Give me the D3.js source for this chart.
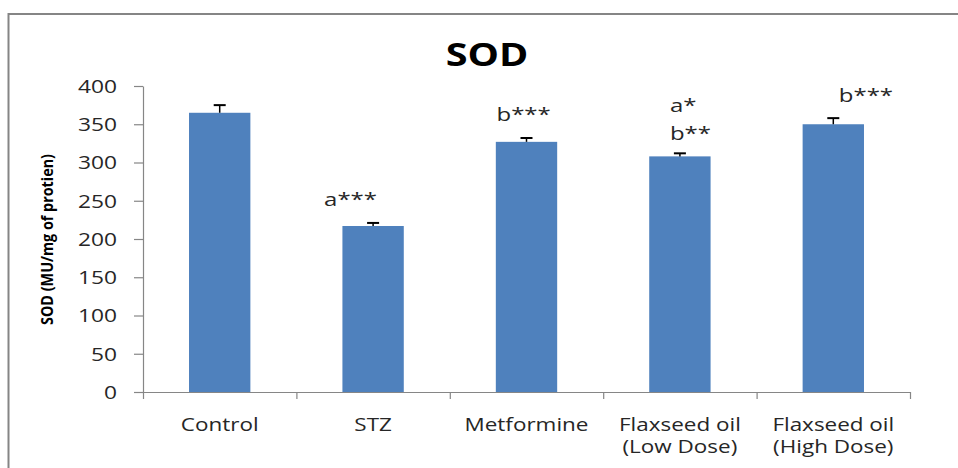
<!DOCTYPE html>
<html>
<head>
<meta charset="utf-8">
<script src="https://cdn.jsdelivr.net/npm/d3@7/dist/d3.min.js"></script>
<style>
  html, body { margin: 0; padding: 0; background: #fff; }
  svg { display: block; }
  text { font-family: "Open Sans", sans-serif; fill: #262626; }
</style>
</head>
<body>
<svg id="chart" width="958" height="468"></svg>
<script>
// ---- data ----
const categories = ["Control", "STZ", "Metformine", "Flaxseed oil\n(Low Dose)", "Flaxseed oil\n(High Dose)"];
const values = [365, 217, 327, 308, 350];
const errors = [10, 4, 5, 4, 8];
const yTicks = [0, 50, 100, 150, 200, 250, 300, 350, 400];
// significance annotations: category index, label, value-level of baseline
const annotCat = [1, 2, 3, 3, 4];
const annotText = ["a***", "b***", "a*", "b**", "b***"];
const annotLevel = [243.5, 354, 365.6, 329, 379.5];
const annotShift = [-49, -30, -10, -10, 5.5];

const title = "SOD";
const yLabel = "SOD (MU/mg of protien)";

// ---- layout ----
const SX = 1.3; // horizontal stretch of the source picture
const svg = d3.select("#chart");
const mLeft = 143, mRight = 910, mTop = 86, mBottom = 392;

const x = d3.scaleBand().domain(d3.range(categories.length)).range([mLeft, mRight]).paddingInner(0).paddingOuter(0);
const xEdges = d3.scaleLinear().domain([0, categories.length]).range([mLeft, mRight]);
const y = d3.scaleLinear().domain([0, 400]).range([mBottom, mTop]);

// outer border
svg.append("rect")
  .attr("x", 8.5).attr("y", 14)
  .attr("width", 1000).attr("height", 500)
  .attr("fill", "none").attr("stroke", "#858585").attr("stroke-width", 2);

// title
svg.append("text")
  .attr("transform", `translate(487,66) scale(1.2,1)`)
  .attr("text-anchor", "middle")
  .attr("font-size", 33).attr("font-weight", "bold")
  .style("fill", "#000")
  .text(title);

// y axis
const yAxis = svg.append("g")
  .attr("transform", `translate(${mLeft},0)`)
  .call(d3.axisLeft(y).tickValues(yTicks).tickSize(9).tickSizeOuter(0));
yAxis.select(".domain").attr("stroke", "#868686").attr("stroke-width", 1.2);
yAxis.selectAll(".tick line").attr("stroke", "#868686").attr("stroke-width", 1.2);
yAxis.selectAll(".tick text")
  .attr("x", null).attr("dy", "0.36em")
  .attr("transform", `translate(-26,0) scale(${SX},1)`)
  .attr("font-size", 17.5)
  .attr("font-family", "Open Sans")
  .style("fill", "#262626");

// bars
const barW = x.bandwidth() * 0.4;
svg.append("g").selectAll("rect")
  .data(values)
  .join("rect")
  .attr("x", (d, i) => x(i) + x.bandwidth() / 2 - barW / 2)
  .attr("y", d => y(d))
  .attr("width", barW)
  .attr("height", d => y(0) - y(d))
  .attr("fill", "#4F81BD");

// error bars (upper only)
const eb = svg.append("g").attr("stroke", "#000");
values.forEach((v, i) => {
  const cx = x(i) + x.bandwidth() / 2;
  eb.append("line").attr("x1", cx).attr("x2", cx).attr("y1", y(v)).attr("y2", y(v + errors[i])).attr("stroke-width", 1.5);
  eb.append("line").attr("x1", cx - 6).attr("x2", cx + 6).attr("y1", y(v + errors[i])).attr("y2", y(v + errors[i])).attr("stroke-width", 2);
});

// x axis
const xAxis = svg.append("g")
  .attr("transform", `translate(0,${mBottom})`)
  .call(d3.axisBottom(xEdges).tickValues(d3.range(categories.length + 1)).tickSize(7).tickSizeOuter(0).tickFormat(""));
xAxis.select(".domain").attr("stroke", "#868686").attr("stroke-width", 1.2);
xAxis.selectAll(".tick line").attr("stroke", "#868686").attr("stroke-width", 1.2);

// category labels
const lab = svg.append("g");
categories.forEach((c, i) => {
  const cx = x(i) + x.bandwidth() / 2;
  const lines = c.split("\n");
  const t = lab.append("text")
    .attr("transform", `translate(${cx},431) scale(${SX * 0.96},1)`)
    .attr("text-anchor", "middle")
    .attr("font-size", 18);
  lines.forEach((l, j) => {
    t.append("tspan").attr("x", 0).attr("y", j * 22.5).text(l);
  });
});

// annotations
annotText.forEach((a, k) => {
  const cx = x(annotCat[k]) + x.bandwidth() / 2 + annotShift[k];
  svg.append("text")
    .attr("transform", `translate(${cx},${y(annotLevel[k])}) scale(${SX * 0.97},1)`)
    .attr("text-anchor", "start")
    .attr("font-size", 19)
    .text(a);
});

// y label
svg.append("text")
  .attr("transform", `translate(53,239.5) scale(${SX},1.15) rotate(-90)`)
  .attr("text-anchor", "middle")
  .attr("font-size", 12.5).attr("font-weight", "bold")
  .style("fill", "#000")
  .text(yLabel);
</script>
</body>
</html>
